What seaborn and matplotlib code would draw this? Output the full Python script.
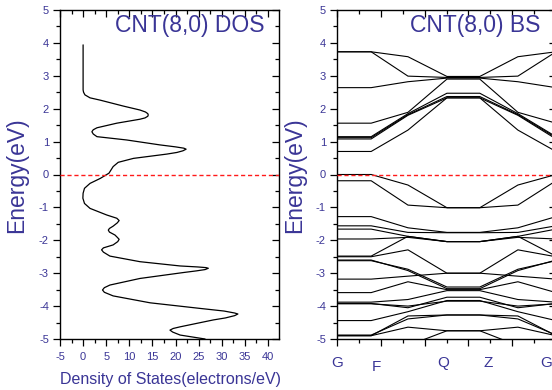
import matplotlib

matplotlib.use("Agg")
import matplotlib.pyplot as plt
import numpy as np
import pandas as pd
import seaborn as sns
from matplotlib.ticker import MultipleLocator

# density of states curve (x = DOS, y = energy)
DOS_VALUES = [
    0.0, 0.0, 0.1, 0.4, 1.5, 3.7, 8.7, 12.3, 13.5, 14.0, 14.1, 14.0, 13.4, 12.3, 7.3,
    3.0, 2.2, 1.9, 2.2, 3.0, 9.4, 16.6, 20.0, 21.8, 22.3, 21.6, 20.3, 18.1, 10.9, 7.6,
    6.5, 5.6, 3.7, 1.5, 0.3, 0.0, -0.05, 0.3, 1.5, 5.1, 7.3, 7.8, 7.4, 6.5, 5.7,
    5.45, 5.7, 6.9, 7.4, 7.8, 7.5, 6.5, 4.4, 4.0, 4.4, 5.8, 12.3, 21.0, 24.8, 26.6,
    27.1, 26.4, 24.5, 21.7, 12.3, 5.8, 4.6, 4.2, 4.6, 6.5, 14.5, 25.3, 30.5, 32.8, 33.5,
    32.8, 30.8, 28.2, 21.0, 19.5, 18.8, 19.4, 21.0, 26.4,
]
DOS_ENERGY = [
    3.94, 2.57, 2.50, 2.42, 2.33, 2.26, 2.08, 1.96, 1.90, 1.85, 1.81, 1.77, 1.72, 1.68, 1.56,
    1.42, 1.36, 1.30, 1.23, 1.15, 1.05, 0.90, 0.84, 0.80, 0.77, 0.72, 0.67, 0.62, 0.49, 0.37,
    0.24, 0.04, -0.12, -0.27, -0.42, -0.57, -0.72, -0.88, -1.03, -1.23, -1.33, -1.40, -1.47, -1.57, -1.64,
    -1.69, -1.75, -1.84, -1.91, -1.97, -2.04, -2.14, -2.23, -2.29, -2.36, -2.48, -2.65, -2.78, -2.81, -2.83,
    -2.85, -2.89, -2.93, -2.98, -3.16, -3.36, -3.44, -3.51, -3.58, -3.69, -3.90, -4.07, -4.15, -4.21, -4.24,
    -4.29, -4.36, -4.42, -4.63, -4.68, -4.73, -4.79, -4.88, -5.00,
]

# k-path positions (0..5 axis units) where the band lines change slope
K_POINTS = [0.0, 0.78, 1.62, 2.51, 3.26, 4.13, 5.0]
K_LABELS = ["G", "F", "Q", "Z", "G"]
K_LABEL_POS = [0.0, 0.91, 2.42, 3.45, 4.78]

# band energies (eV) at each k point
BANDS = [
    [3.73, 3.73, 3.58, 2.98, 2.98, 3.58, 3.73],
    [3.73, 3.73, 2.99, 2.95, 2.95, 2.99, 3.73],
    [2.64, 2.64, 2.82, 2.93, 2.93, 2.82, 2.64],
    [1.56, 1.56, 1.89, 2.90, 2.90, 1.89, 1.56],
    [1.15, 1.15, 1.85, 2.47, 2.47, 1.85, 1.15],
    [1.12, 1.12, 1.82, 2.37, 2.37, 1.82, 1.12],
    [1.08, 1.08, 1.80, 2.33, 2.33, 1.80, 1.08],
    [0.70, 0.70, 1.35, 2.33, 2.33, 1.35, 0.70],
    [0.00, 0.00, -0.32, -1.01, -1.01, -0.32, 0.00],
    [-0.19, -0.19, -0.93, -1.01, -1.01, -0.93, -0.19],
    [-1.28, -1.28, -1.62, -1.76, -1.76, -1.62, -1.28],
    [-1.56, -1.56, -1.76, -1.77, -1.77, -1.76, -1.56],
    [-1.66, -1.66, -1.88, -2.04, -2.04, -1.88, -1.66],
    [-1.96, -1.96, -1.91, -2.04, -2.04, -1.91, -1.96],
    [-2.48, -2.48, -1.88, -2.04, -2.04, -1.88, -2.48],
    [-2.50, -2.50, -2.29, -3.00, -3.00, -2.29, -2.50],
    [-2.62, -2.62, -2.88, -3.42, -3.42, -2.88, -2.62],
    [-2.60, -2.60, -2.92, -3.47, -3.47, -2.92, -2.60],
    [-3.18, -3.18, -3.09, -3.00, -3.00, -3.09, -3.18],
    [-3.59, -3.59, -3.26, -3.50, -3.50, -3.26, -3.59],
    [-3.88, -3.88, -3.80, -3.53, -3.53, -3.80, -3.88],
    [-3.92, -3.92, -4.05, -3.73, -3.73, -4.05, -3.92],
    [-3.93, -3.93, -4.00, -3.85, -3.85, -4.00, -3.93],
    [-4.44, -4.44, -4.17, -3.83, -3.83, -4.17, -4.44],
    [-4.88, -4.88, -4.39, -4.27, -4.27, -4.39, -4.88],
    [-4.90, -4.90, -4.64, -4.75, -4.75, -4.64, -4.90],
    [-4.90, -4.90, -4.30, -4.27, -4.27, -4.30, -4.90],
    [-5.50, -5.50, -5.20, -4.75, -4.75, -5.20, -5.50],
]

BLUE = "#3a3596"


def style_axes(ax):
    ax.set_ylim(-5, 5)
    ax.yaxis.set_major_locator(MultipleLocator(1))
    ax.yaxis.set_minor_locator(MultipleLocator(0.5))
    ax.tick_params(which="both", top=True, right=True, labelcolor=BLUE, labelsize=8, color="black", width=0.9)
    ax.tick_params(which="major", length=5)
    ax.tick_params(which="minor", length=3)
    ax.tick_params(axis="x", which="both", top=True, direction="out")
    ax.tick_params(axis="y", which="both", direction="out", pad=3)
    for side in ["top", "right", "bottom", "left"]:
        ax.spines[side].set_color("black")
        ax.spines[side].set_linewidth(1.0)
    ax.axhline(0, color="#ff1a1a", linestyle=(0, (3, 2)), linewidth=1.0, zorder=3)
    ax.set_xlabel("")
    ax.set_ylabel("")


def inward_top_right(ax):
    # Origin style: bottom/left ticks point out, top/right ticks point in
    for tick in ax.xaxis.get_major_ticks() + ax.xaxis.get_minor_ticks():
        tick.tick2line.set_marker(matplotlib.lines.TICKDOWN)
    for tick in ax.yaxis.get_major_ticks() + ax.yaxis.get_minor_ticks():
        tick.tick2line.set_marker(matplotlib.lines.TICKLEFT)


def main():
    sns.set_theme(style="ticks")
    plt.rcParams["font.family"] = ["Liberation Sans", "DejaVu Sans"]
    plt.rcParams["axes.unicode_minus"] = False

    fig = plt.figure(figsize=(5.52, 3.90), dpi=100)
    fig.patch.set_facecolor("white")
    ax1 = fig.add_axes([60 / 552, 51 / 390, 219 / 552, 329 / 390])
    ax2 = fig.add_axes([337 / 552, 51 / 390, 219 / 552, 329 / 390])

    dos = pd.DataFrame({"dos": DOS_VALUES, "energy": DOS_ENERGY})
    sns.lineplot(data=dos, x="dos", y="energy", sort=False, estimator=None,
                 color="black", linewidth=0.9, ax=ax1)
    ax1.set_xlim(-5, 42.4)
    ax1.xaxis.set_major_locator(MultipleLocator(5))
    ax1.xaxis.set_minor_locator(MultipleLocator(2.5))
    style_axes(ax1)
    ax1.tick_params(axis="x", pad=4)
    inward_top_right(ax1)
    ax1.text(0.936, 0.933, "CNT(8,0) DOS", transform=ax1.transAxes, ha="right",
             va="baseline", fontsize=16.5, color=BLUE)

    rows = []
    for b, energies in enumerate(BANDS):
        for k, e in zip(K_POINTS, energies):
            rows.append({"band": b, "k": k, "energy": e})
    bands = pd.DataFrame(rows)
    sns.lineplot(data=bands, x="k", y="energy", units="band", estimator=None, sort=False,
                 color="black", linewidth=0.8, ax=ax2)
    ax2.set_xlim(0, 5)
    ax2.xaxis.set_major_locator(MultipleLocator(1))
    ax2.xaxis.set_minor_locator(MultipleLocator(0.5))
    style_axes(ax2)
    ax2.tick_params(axis="x", labelbottom=False)
    inward_top_right(ax2)
    ax2.text(0.927, 0.933, "CNT(8,0) BS", transform=ax2.transAxes, ha="right",
             va="baseline", fontsize=16.5, color=BLUE)
    for lab, pos in zip(K_LABELS, K_LABEL_POS):
        ypos = -0.065 if lab == "F" else -0.052
        ax2.text(pos, ypos, lab, transform=ax2.get_xaxis_transform(), ha="center",
                 va="top", fontsize=11, color=BLUE, clip_on=False)

    fig.text(17 / 552, 1 - 175 / 390, "Energy(eV)", rotation=90, ha="center", va="center",
             fontsize=16.5, color=BLUE)
    fig.text(295 / 552, 1 - 175 / 390, "Energy(eV)", rotation=90, ha="center", va="center",
             fontsize=16.5, color=BLUE)
    fig.text(170 / 552, 1 - 384 / 390, "Density of States(electrons/eV)", ha="center",
             va="baseline", fontsize=11.5, color=BLUE)

    fig.savefig("out.png", dpi=100)
    plt.close(fig)


if __name__ == "__main__":
    main()
